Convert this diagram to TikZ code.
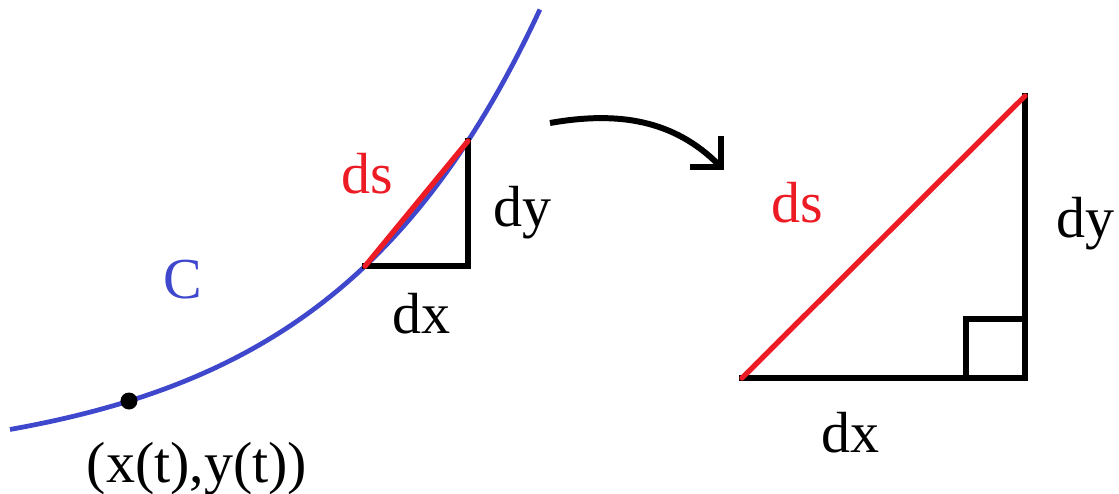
\documentclass[tikz,border=0pt]{standalone}
\usepackage{fontspec}
\setmainfont{Liberation Serif}
\newfontfamily\lblfont{Liberation Serif}
\usetikzlibrary{arrows.meta}

\definecolor{curveblue}{RGB}{63,72,204}
\definecolor{arcred}{RGB}{237,28,36}

\begin{document}
\begin{tikzpicture}[
    every node/.style={font=\lblfont\fontsize{16.5}{19}\selectfont, inner sep=0pt},
    curve/.style={line width=1.35pt, curveblue},
    leg/.style={line width=1.6pt, black, line cap=rect},
    hyp/.style={line width=1.5pt, arcred, line cap=round},
    lbl/.style={anchor=base},
]
\useasboundingbox (0,0) rectangle (11.19,4.93);

% === Curve C ===
\draw[curve] plot[domain=0.10:5.40, samples=80]
    (\x, {0.256+0.362*exp(0.47*\x)});
\fill (1.29,0.92) circle (0.085) coordinate (pt);
\node[lbl, curveblue] (clbl) at (1.83,1.95) {C};
\node[lbl] (ptlbl) at (1.97,0.11) {(x(t),y(t))};

% === Small triangle on the curve ===
\coordinate (sa) at (3.65,2.268);
\coordinate (sb) at (4.68,2.268);
\coordinate (sc) at (4.68,3.52);
\draw[leg] (sa) -- (sb) -- (sc);
\draw[hyp] (sa) -- (sc);
\node[lbl, arcred] (sds) at (3.67,3.00) {ds};
\node[lbl] (sdy) at (5.22,2.66) {dy};
\node[lbl] (sdx) at (4.21,1.60) {dx};

% === Arrow ===
\coordinate (arrs) at (5.50,3.70);
\coordinate (arre) at (7.24,3.23);
\draw[line width=1.7pt, -{Straight Barb[length=0.22cm, width=0.44cm]}]
    (arrs) to[out=10, in=135] (arre);

% === Large triangle ===
\coordinate (ba) at (7.42,1.15);
\coordinate (bb) at (10.25,1.15);
\coordinate (bc) at (10.25,3.97);
\draw[leg] (ba) -- (bb) -- (bc);
\draw[leg] (9.66,1.15) -- (9.66,1.74) -- (10.25,1.74);
\draw[hyp] (ba) -- (bc);
\node[lbl, arcred] (bds) at (7.97,2.71) {ds};
\node[lbl] (bdy) at (10.85,2.56) {dy};
\node[lbl] (bdx) at (8.50,0.41) {dx};

\end{tikzpicture}
\end{document}
